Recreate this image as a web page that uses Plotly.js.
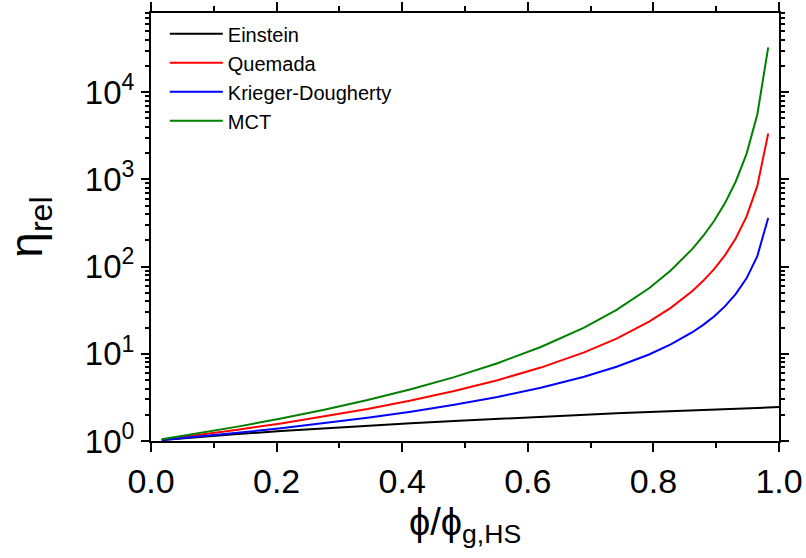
<!DOCTYPE html>
<html>
<head>
<meta charset="utf-8">
<script src="https://cdn.plot.ly/plotly-3.0.1.min.js"></script>
<style>
  html, body { margin: 0; padding: 0; background: #fff; }
  #chart { width: 806px; height: 558px; }
</style>
</head>
<body>
<div id="chart"></div>
<script>
// phi / phi_g,HS sample positions
const xModel = [0.0172, 0.0690, 0.1379, 0.2069, 0.2759, 0.3448, 0.4138, 0.4828, 0.5517, 0.6207,
                0.6897, 0.7414, 0.7931, 0.8276, 0.8621, 0.8793, 0.8966, 0.9138, 0.9310, 0.9483,
                0.9655, 0.9828];
const xEinstein = [0.0172, 0.0690, 0.1379, 0.2069, 0.2759, 0.3448, 0.4138, 0.4828, 0.5517, 0.6207,
                   0.6897, 0.7414, 0.7931, 0.8276, 0.8621, 0.8793, 0.8966, 0.9138, 0.9310, 0.9483,
                   0.9655, 0.9828, 1.0];

const einstein = [1.025, 1.1, 1.2, 1.3, 1.4, 1.5, 1.6, 1.7, 1.8, 1.9,
                  2.0, 2.075, 2.15, 2.2, 2.25, 2.275, 2.3, 2.325, 2.35, 2.375,
                  2.4, 2.425, 2.45];
const quemada = [1.035, 1.154, 1.346, 1.590, 1.907, 2.330, 2.910, 3.738, 4.976, 6.950,
                 10.38, 14.95, 23.36, 33.64, 52.56, 68.65, 93.44, 134.6, 210.3, 373.8,
                 841, 3364];
const kriegerDougherty = [1.026, 1.109, 1.240, 1.400, 1.597, 1.846, 2.169, 2.601, 3.201, 4.078,
                          5.455, 7.105, 9.820, 12.79, 17.68, 21.46, 26.83, 34.95, 48.30, 73.30,
                          132.0, 360.5];
const mct = [1.046, 1.201, 1.462, 1.810, 2.284, 2.952, 3.924, 5.406, 7.799, 11.96,
             19.99, 31.88, 56.45, 90.02, 159.4, 224.3, 332.9, 530.9, 940.0, 1963,
             5543, 32680];

const seriesNames = ['Einstein', 'Quemada', 'Krieger-Dougherty', 'MCT'];
const seriesColors = ['#000000', '#ff0000', '#0000ff', '#008000'];

const yTickVals = [1, 10, 100, 1000, 10000];
const yTickText = ['10<sup>0</sup>', '10<sup>1</sup>', '10<sup>2</sup>', '10<sup>3</sup>', '10<sup>4</sup>'];
const yMinorVals = [];
for (let e = 0; e <= 4; e++) {
  for (let m = 2; m <= 9; m++) yMinorVals.push(m * Math.pow(10, e));
}

const ys = [einstein, quemada, kriegerDougherty, mct];
const xs = [xEinstein, xModel, xModel, xModel];

const traces = seriesNames.map((name, i) => ({
  type: 'scatter',
  mode: 'lines',
  name: name,
  x: xs[i],
  y: ys[i],
  line: { color: seriesColors[i], width: 2 }
}));

const FONT = 'Liberation Sans, Arial, sans-serif';

const layout = {
  width: 806,
  height: 558,
  margin: { l: 151, r: 27, t: 13, b: 117 },
  paper_bgcolor: '#ffffff',
  plot_bgcolor: '#ffffff',
  font: { family: FONT, color: '#000000' },
  showlegend: true,
  legend: {
    x: 0.022, y: 0.997, xanchor: 'left', yanchor: 'top',
    bgcolor: 'rgba(0,0,0,0)', borderwidth: 0,
    font: { family: FONT, size: 20, color: '#000' },
    itemwidth: 53,
    tracegroupgap: 0
  },
  xaxis: {
    range: [0, 1.0],
    tickmode: 'array',
    tickvals: [0, 0.2, 0.4, 0.6, 0.8, 1.0],
    ticktext: ['0.0', '0.2', '0.4', '0.6', '0.8', '1.0'],
    ticks: 'outside', ticklen: 9, tickwidth: 2, tickcolor: '#000',
    minor: { tickmode: 'array', tickvals: [0.1, 0.3, 0.5, 0.7, 0.9], ticks: 'outside', ticklen: 5, tickwidth: 2, tickcolor: '#000' },
    showline: true, linewidth: 2, linecolor: '#000', mirror: 'ticks',
    showgrid: false, zeroline: false,
    tickfont: { family: FONT, size: 34, color: '#000' },
    title: { text: 'ϕ/ϕ<sub>g,HS</sub>', font: { family: FONT, size: 38, color: '#000' }, standoff: 10 }
  },
  yaxis: {
    type: 'log',
    range: [0, 4.908],
    tickmode: 'array',
    tickvals: yTickVals,
    ticktext: yTickText,
    ticks: 'outside', ticklen: 8, tickwidth: 2, tickcolor: '#000',
    minor: { tickmode: 'array', tickvals: yMinorVals, ticks: 'outside', ticklen: 4, tickwidth: 2, tickcolor: '#000' },
    showline: true, linewidth: 2, linecolor: '#000', mirror: 'ticks',
    showgrid: false, zeroline: false,
    tickfont: { family: FONT, size: 33, color: '#000' },
    title: { text: 'η<sub>rel</sub>', font: { family: FONT, size: 46, color: '#000' }, standoff: 42 }
  }
};

Plotly.newPlot('chart', traces, layout, { displayModeBar: false, staticPlot: true });
</script>
</body>
</html>
